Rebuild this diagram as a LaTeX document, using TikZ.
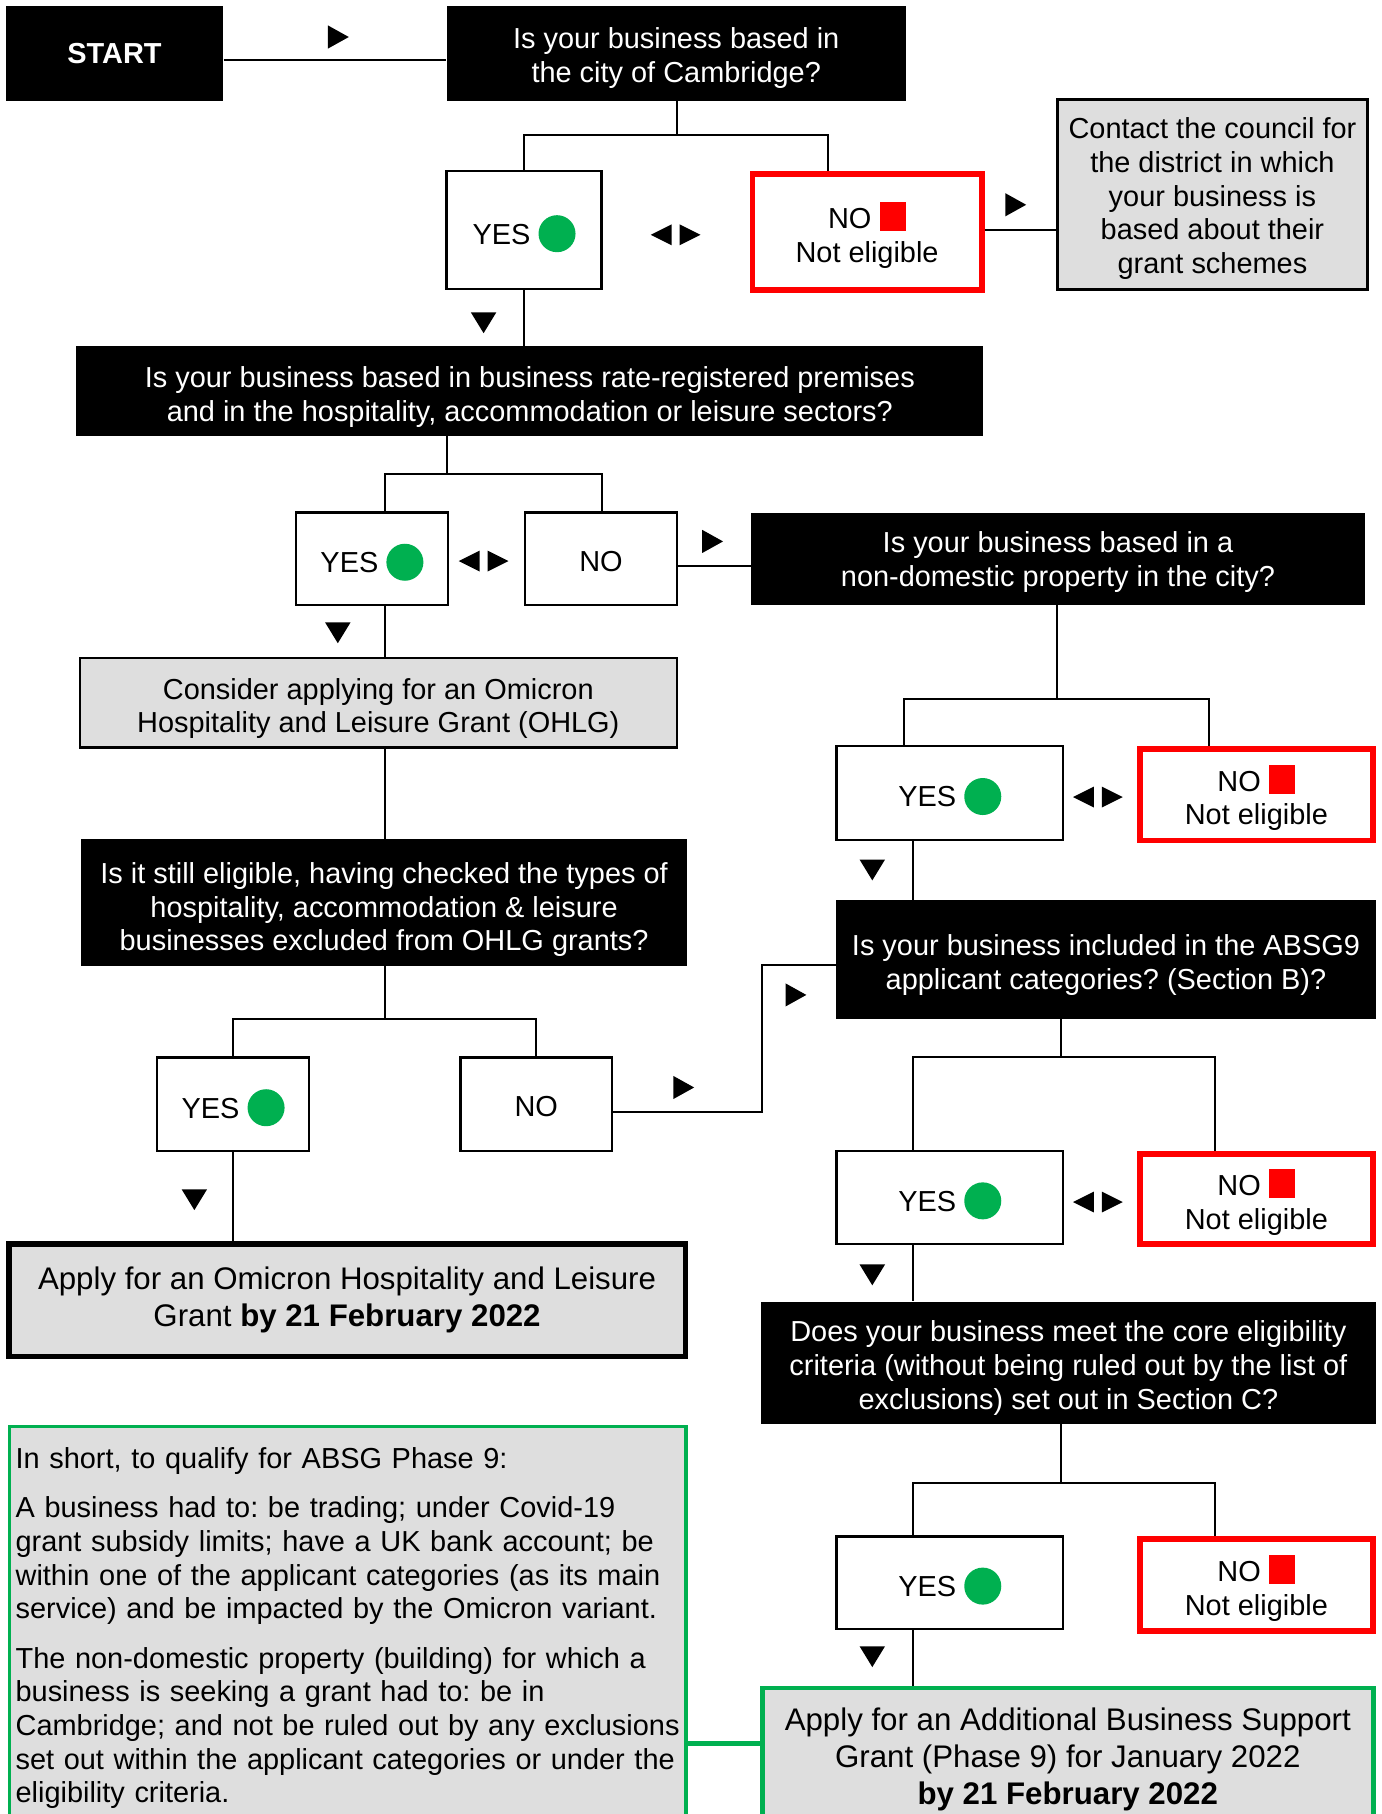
\documentclass[tikz,border=0pt]{standalone}
\usepackage{fontspec}
\setmainfont{Liberation Sans}
\frenchspacing

\definecolor{okgreen}{HTML}{00B050}
\definecolor{boxgray}{HTML}{DEDEDE}
\newcommand{\gdot}{\tikz[baseline=-9pt]\fill[okgreen] (0,0) circle (16pt);}
\newcommand{\rsq}{\textcolor{red}{\rule[-2pt]{23pt}{25pt}}}

\tikzset{
  ask/.style={fill=black,text=white,align=center,inner sep=0pt,text depth=0pt},
  yesno/.style={draw,line width=2pt,fill=white,align=center,inner sep=0pt,text depth=1pt},
  nobox/.style={draw=red,line width=5pt,fill=white,align=center,inner sep=0pt,text depth=0pt},
  info/.style={draw,line width=2.5pt,fill=boxgray,align=center,inner sep=0pt,text depth=0pt},
  link/.style={line width=1.7pt},
  rtri/.pic={\fill (-9,-10) -- (9,0) -- (-9,10) -- cycle;},
  dtri/.pic={\fill (-11,-9) -- (11,-9) -- (0,9) -- cycle;},
  lrtri/.pic={\fill (-3.5,-9) -- (-21.5,0) -- (-3.5,9) -- cycle;
              \fill (3.5,-9) -- (21.5,0) -- (3.5,9) -- cycle;}
}

\begin{document}
\begin{tikzpicture}[x=1pt,y=-1pt,every node/.style={font=\fontsize{25}{29.2}\selectfont}]
    \clip (0,0) rectangle (1194,1568);

    % first question
    \node[ask,minimum width=188pt,minimum height=82pt,font=\fontsize{25}{29.2}\selectfont\bfseries](start) at (99,46){START};
    \node[ask,text height=51pt,minimum width=397pt,minimum height=82pt](q1) at (584.5,46){Is your business based in\\the city of Cambridge?};
    \node[yesno,minimum width=134pt,minimum height=102pt](yes1) at (453,199){YES \gdot};
    \node[nobox,minimum width=198pt,minimum height=100pt](no1) at (749.5,200.5){NO \rsq\\Not eligible};
    \node[info,text height=137pt,minimum width=268pt,minimum height=164pt](contact) at (1048,168){Contact the council for\\the district in which\\your business is\\based about their\\grant schemes};

    \draw[link] (start.east |- 0,52) -- (q1.west |- 0,52);
    \pic at (292.5,32) {rtri};
    \coordinate (j1) at (585,117);
    \draw[link] (q1.south -| j1) -- (j1);
    \draw[link] (yes1.north) |- (j1) -| (no1.north -| 716,0);
    \pic at (584,203) {lrtri};
    \draw[link] (no1.east |- 0,199) -- (contact.west |- 0,199);
    \pic at (878,177) {rtri};

    % hospitality
    \node[ask,text height=53pt,minimum width=784pt,minimum height=78pt](q2) at (458,338){Is your business based in business rate-registered premises\\and in the hospitality, accommodation or leisure sectors?};
    \draw[link] (yes1.south) -- (yes1.south |- q2.north);
    \pic at (418,279) {dtri};

    \node[yesno,minimum width=131pt,minimum height=80pt](yes2) at (321.5,483){YES \gdot};
    \node[yesno,text height=22pt,text depth=0pt,minimum width=131pt,minimum height=80pt](no2) at (519.5,483){NO};
    \coordinate (j2) at (386,410);
    \draw[link] (q2.south -| j2) -- (j2);
    \draw[link] (yes2.north -| 333,0) |- (j2) -| (no2.north -| 520,0);
    \pic at (418,485) {lrtri};

    \node[ask,minimum width=531pt,minimum height=80pt](q3) at (914.5,483){Is your business based in a\\non-domestic property in the city?};
    \draw[link] (no2.east |- 0,489) -- (q3.west |- 0,489);
    \pic at (616,468) {rtri};

    \node[info,text height=52pt,line width=2pt,minimum width=516pt,minimum height=77pt](ohlg) at (327,607.5){Consider applying for an Omicron\\Hospitality and Leisure Grant (OHLG)};
    \draw[link] (yes2.south -| 333,0) -- (ohlg.north -| 333,0);
    \pic at (292,547) {dtri};

    \node[ask,text height=84pt,minimum width=524pt,minimum height=110pt](q4) at (332,780){Is it still eligible, having checked the types of\\hospitality, accommodation \& leisure\\businesses excluded from OHLG grants?};
    \draw[link] (ohlg.south -| 333,0) -- (q4.north -| 333,0);
    \coordinate (j4) at (333,881);
    \draw[link] (q4.south -| j4) -- (j4);

    \node[yesno,minimum width=131pt,minimum height=81pt](yes3) at (201.5,954.5){YES \gdot};
    \node[yesno,text height=22pt,text depth=0pt,minimum width=131pt,minimum height=81pt](no3) at (463.5,954.5){NO};
    \draw[link] (yes3.north) |- (j4) -| (no3.north);

    \node[draw,line width=5pt,fill=boxgray,align=center,inner sep=0pt,minimum width=585pt,minimum height=97pt,font=\fontsize{27}{32}\selectfont](grant1) at (300,1124){Apply for an Omicron Hospitality and Leisure\\Grant \textbf{by 21 February 2022}};
    \draw[link] (yes3.south) -- (grant1.north -| yes3.south);
    \pic at (168,1037) {dtri};

    % right column
    \coordinate (j3) at (914,604);
    \draw[link] (q3.south -| j3) -- (j3);
    \node[yesno,minimum width=196pt,minimum height=81pt](yes4) at (821,685.5){YES \gdot};
    \node[nobox,minimum width=201pt,minimum height=79pt](no4) at (1086,687){NO \rsq\\Not eligible};
    \draw[link] (yes4.north -| 781,0) |- (j3) -| (no4.north -| 1045,0);
    \pic at (949,689) {lrtri};

    \node[ask,text height=52pt,minimum width=466pt,minimum height=103pt](q5) at (956,829.5){Is your business included in the ABSG9\\applicant categories? (Section B)?};
    \draw[link] (yes4.south -| 789,0) -- (q5.north -| 789,0);
    \pic at (754,752) {dtri};
    \coordinate (b1) at (659,834);
    \draw[link] (no3.east |- 0,961) -| (b1) -- (q5.west |- b1);
    \pic at (591,940) {rtri};
    \pic at (688,860) {rtri};

    \coordinate (j5) at (917,914);
    \draw[link] (q5.south -| j5) -- (j5);
    \node[yesno,minimum width=196pt,minimum height=80pt](yes5) at (821,1035){YES \gdot};
    \node[nobox,minimum width=201pt,minimum height=78pt](no5) at (1086,1036.5){NO \rsq\\Not eligible};
    \draw[link] (yes5.north -| 789,0) |- (j5) -| (no5.north -| 1050,0);
    \pic at (949,1039) {lrtri};

    \node[ask,text height=80pt,minimum width=531pt,minimum height=106pt](q6) at (923.5,1178){Does your business meet the core eligibility\\criteria (without being ruled out by the list of\\exclusions) set out in Section C?};
    \draw[link] (yes5.south -| 789,0) -- (q6.north -| 789,0);
    \pic at (754,1102) {dtri};

    \coordinate (j6) at (917,1282);
    \draw[link] (q6.south -| j6) -- (j6);
    \node[yesno,minimum width=196pt,minimum height=80pt](yes6) at (821,1368){YES \gdot};
    \node[nobox,minimum width=201pt,minimum height=79pt](no6) at (1086,1370){NO \rsq\\Not eligible};
    \draw[link] (yes6.north -| 789,0) |- (j6) -| (no6.north -| 1050,0);

    \node[draw=okgreen,line width=4pt,fill=boxgray,align=center,inner sep=0pt,anchor=north,minimum width=528pt,minimum height=123pt,font=\fontsize{27}{32}\selectfont](grant2) at (923,1457){Apply for an Additional Business Support\\Grant (Phase 9) for January 2022\\\textbf{by 21 February 2022}};
    \draw[link] (yes6.south -| 789,0) -- (grant2.north -| 789,0);
    \pic at (754,1432) {dtri};

    \node[draw=okgreen,line width=3pt,fill=boxgray,align=left,anchor=north west,text width=574pt,inner xsep=5.5pt,inner ysep=18pt,font=\fontsize{25}{29}\selectfont](short) at (6.5,1231.5){In short, to qualify for ABSG Phase 9:\\[14pt]
      A business had to: be trading; under Covid-19\\grant subsidy limits; have a UK bank account; be\\within one of the applicant categories (as its main\\service) and be impacted by the Omicron variant.\\[14pt]
      The non-domestic property (building) for which a\\business is seeking a grant had to: be in\\Cambridge; and not be ruled out by any exclusions\\set out within the applicant categories or under the\\eligibility criteria.};
    \draw[okgreen,line width=4pt] (short.east |- 0,1507) -- (grant2.west |- 0,1507);

  \end{tikzpicture}
\end{document}
